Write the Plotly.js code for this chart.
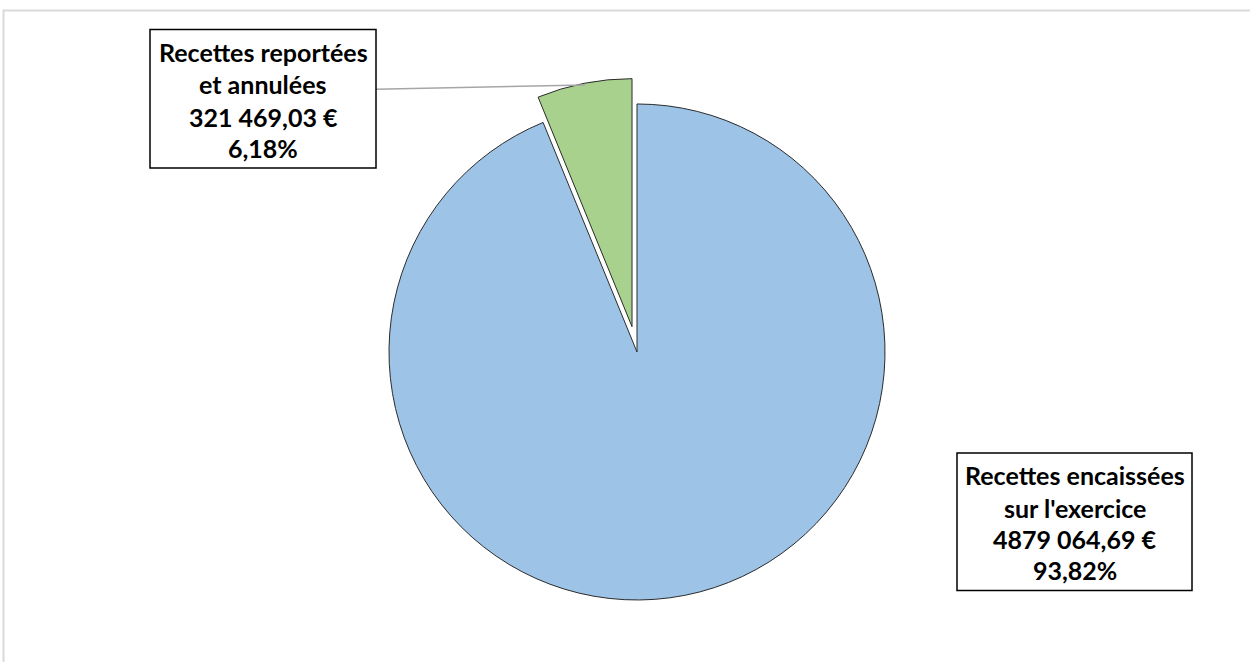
<!DOCTYPE html>
<html><head><meta charset="utf-8">
<script src="https://cdn.plot.ly/plotly-3.0.1.min.js"></script>
<style>html,body{margin:0;padding:0;background:#fff;}#chart{width:1250px;height:662px;}</style>
</head><body><div id="chart"></div>
<script>
// Data
const categories = ["Recettes reportées et annulées", "Recettes encaissées sur l'exercice"];
const amounts = [321469.03, 4879064.69];
const amountLabels = ["321 469,03 €", "4879 064,69 €"];
const percentLabels = ["6,18%", "93,82%"];
const labelLines = [["Recettes reportées", "et annulées"], ["Recettes encaissées", "sur l'exercice"]];
const colors = ["#A9D18E", "#9DC3E6"];

const W = 1250, H = 662;
const px = x => x / W;
const py = y => 1 - y / H;

// start angle so that the first slice ends at 12 o'clock
const firstShare = amounts[0] / amounts.reduce((a, b) => a + b, 0);

const trace = {
  type: 'pie',
  labels: categories,
  values: amounts,
  sort: false,
  direction: 'clockwise',
  rotation: -firstShare * 360,
  pull: [0.104, 0],
  textinfo: 'none',
  hoverinfo: 'label+value+percent',
  marker: {colors: colors, line: {color: '#2b2b2b', width: 1}},
  domain: {x: [0.2596, 0.7596], y: [0.0547, 0.8819]},
  showlegend: false
};

// Label boxes (pixel geometry)
const boxes = [
  {x0: 150, x1: 376, y0: 29.5, y1: 168, cx: 263, lines: [52, 84.5, 116.5, 148.5]},
  {x0: 957, x1: 1192, y0: 453, y1: 590.5, cx: 1074.5, lines: [475, 507.5, 538.5, 569.5]}
];

const shapes = [
  {type: 'rect', xref: 'paper', yref: 'paper', x0: px(3.5), x1: px(1262), y0: py(10.5), y1: py(672),
   line: {color: '#d9d9d9', width: 2}, fillcolor: 'rgba(0,0,0,0)', layer: 'below'},
  {type: 'line', xref: 'paper', yref: 'paper', x0: px(376), y0: py(89.3), x1: px(585), y1: py(85),
   line: {color: '#a6a6a6', width: 1.5}}
];
const annotations = [];
boxes.forEach((b, i) => {
  shapes.push({type: 'rect', xref: 'paper', yref: 'paper', x0: px(b.x0), x1: px(b.x1), y0: py(b.y0), y1: py(b.y1),
    line: {color: '#000', width: 1.5}, fillcolor: '#fff'});
  const texts = [labelLines[i][0], labelLines[i][1], amountLabels[i], percentLabels[i]];
  texts.forEach((t, j) => {
    annotations.push({xref: 'paper', yref: 'paper', x: px(b.cx), y: py(b.lines[j]),
      xanchor: 'center', yanchor: 'middle', showarrow: false, text: '<b>' + t + '</b>',
      font: {family: 'Lato, "Open Sans", sans-serif', size: 25, color: '#000'}});
  });
});

const layout = {
  width: W, height: H,
  margin: {l: 0, r: 0, t: 0, b: 0},
  paper_bgcolor: '#fff',
  shapes: shapes,
  annotations: annotations,
  showlegend: false
};
Plotly.newPlot('chart', [trace], layout, {displayModeBar: false, staticPlot: true});
</script></body></html>
